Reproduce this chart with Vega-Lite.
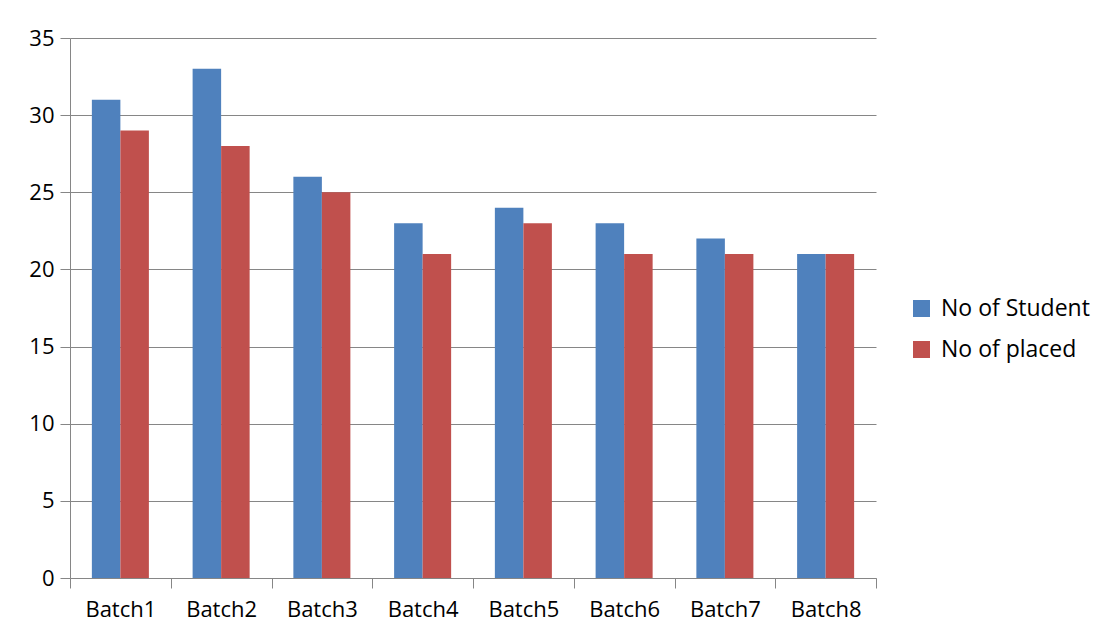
{
  "$schema": "https://vega.github.io/schema/vega-lite/v6.json",
  "width": 806,
  "height": 540,
  "autosize": "none",
  "padding": {"left": 70, "top": 38, "right": 227, "bottom": 66},
  "background": "white",
  "data": {
    "values": [
      {"batch": "Batch1", "series": "No of Student", "value": 31},
      {"batch": "Batch1", "series": "No of placed", "value": 29},
      {"batch": "Batch2", "series": "No of Student", "value": 33},
      {"batch": "Batch2", "series": "No of placed", "value": 28},
      {"batch": "Batch3", "series": "No of Student", "value": 26},
      {"batch": "Batch3", "series": "No of placed", "value": 25},
      {"batch": "Batch4", "series": "No of Student", "value": 23},
      {"batch": "Batch4", "series": "No of placed", "value": 21},
      {"batch": "Batch5", "series": "No of Student", "value": 24},
      {"batch": "Batch5", "series": "No of placed", "value": 23},
      {"batch": "Batch6", "series": "No of Student", "value": 23},
      {"batch": "Batch6", "series": "No of placed", "value": 21},
      {"batch": "Batch7", "series": "No of Student", "value": 22},
      {"batch": "Batch7", "series": "No of placed", "value": 21},
      {"batch": "Batch8", "series": "No of Student", "value": 21},
      {"batch": "Batch8", "series": "No of placed", "value": 21}
    ]
  },
  "mark": {"type": "bar"},
  "encoding": {
    "x": {
      "field": "batch",
      "type": "nominal",
      "sort": null,
      "scale": {"paddingInner": 0, "paddingOuter": 0},
      "axis": {
        "title": null,
        "labelAngle": 0,
        "tickBand": "extent",
        "tickSize": 10,
        "tickColor": "#868686",
        "domainColor": "#868686",
        "labelFont": "Open Sans",
        "labelFontSize": 22,
        "labelColor": "#000000",
        "labelPadding": 11
      }
    },
    "xOffset": {
      "field": "series",
      "type": "nominal",
      "sort": ["No of Student", "No of placed"],
      "scale": {"paddingInner": 0, "paddingOuter": 0.767}
    },
    "y": {
      "field": "value",
      "type": "quantitative",
      "scale": {"domain": [0, 35], "nice": false},
      "axis": {
        "title": null,
        "values": [0, 5, 10, 15, 20, 25, 30, 35],
        "tickSize": 10,
        "tickColor": "#868686",
        "domainColor": "#868686",
        "gridColor": "#868686",
        "grid": true,
        "labelFont": "Open Sans",
        "labelFontSize": 22,
        "labelColor": "#000000",
        "labelPadding": 6
      }
    },
    "color": {
      "field": "series",
      "type": "nominal",
      "sort": ["No of Student", "No of placed"],
      "scale": {"domain": ["No of Student", "No of placed"], "range": ["#4F81BD", "#C0504D"]},
      "legend": {
        "title": null,
        "orient": "none",
        "legendX": 840,
        "legendY": 259,
        "symbolType": "square",
        "symbolSize": 290,
        "symbolStrokeWidth": 0,
        "labelFont": "Open Sans",
        "labelFontSize": 23,
        "labelColor": "#000000",
        "rowPadding": 17,
        "labelOffset": 8
      }
    }
  },
  "config": {
    "view": {"stroke": null}
  }
}
